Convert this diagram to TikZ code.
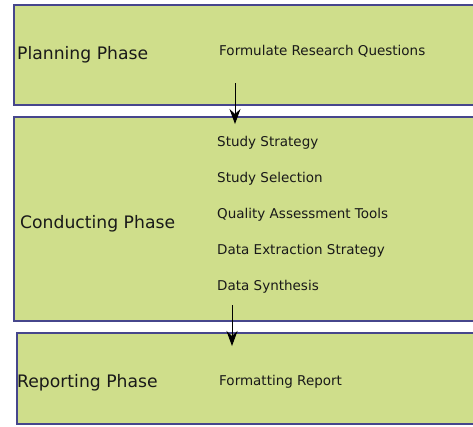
\documentclass[tikz,border=0pt]{standalone}
\usepackage{fontspec}
\setmainfont{DejaVu Sans}
\usepackage{tikz}
\usetikzlibrary{arrows.meta,positioning}
\definecolor{phasefill}{RGB}{207,222,139}
\definecolor{phaseline}{RGB}{70,70,140}
\definecolor{ink}{RGB}{25,25,25}

\begin{document}
\begin{tikzpicture}[
  x=1pt,y=-1pt,
  phase/.style={rectangle,draw=phaseline,fill=phasefill,line width=1.1pt,inner sep=0pt},
  title/.style={anchor=base west,inner sep=0pt,text=ink,font=\fontsize{17.2}{20}\selectfont},
  item/.style={anchor=base west,inner sep=0pt,text=ink,font=\fontsize{13.5}{16}\selectfont},
  arrow/.style={-{Stealth[length=15pt,width=11pt,inset=5pt]},line width=0.9pt}
]
\useasboundingbox (0,0) rectangle (473,426);
\begin{scope}
\clip (0,0) rectangle (473,426);
\node[phase,minimum width=466pt,minimum height=100pt] (plan) at (247,55) {};
\node[phase,minimum width=466pt,minimum height=204pt] (conduct) at (247,219) {};
\node[phase,minimum width=463pt,minimum height=91pt] (report) at (248.5,378.5) {};
\end{scope}
% phase titles
\node[title] (plantitle) at (17,59) {Planning Phase};
\node[title] (conducttitle) at (20,228) {Conducting Phase};
\node[title] (reporttitle) at (17,387) {Reporting Phase};
% phase activities
\node[item] (questions) at (219,55) {Formulate Research Questions};
\node[item] (strategy) at (217,146) {Study Strategy};
\node[item,below=36pt of strategy.base west,anchor=base west] (selection) {Study Selection};
\node[item,below=36pt of selection.base west,anchor=base west] (quality) {Quality Assessment Tools};
\node[item,below=36pt of quality.base west,anchor=base west] (extraction) {Data Extraction Strategy};
\node[item,below=36pt of extraction.base west,anchor=base west] (synthesis) {Data Synthesis};
\node[item] (formatting) at (219,385) {Formatting Report};
% connectors
\coordinate (planout) at (235,83);
\coordinate (conductin) at (235,124);
\coordinate (conductout) at (232,305);
\coordinate (reportin) at (232,346);
\draw[arrow] (planout) -- (conductin);
\draw[arrow] (conductout) -- (reportin);
\end{tikzpicture}
\end{document}
